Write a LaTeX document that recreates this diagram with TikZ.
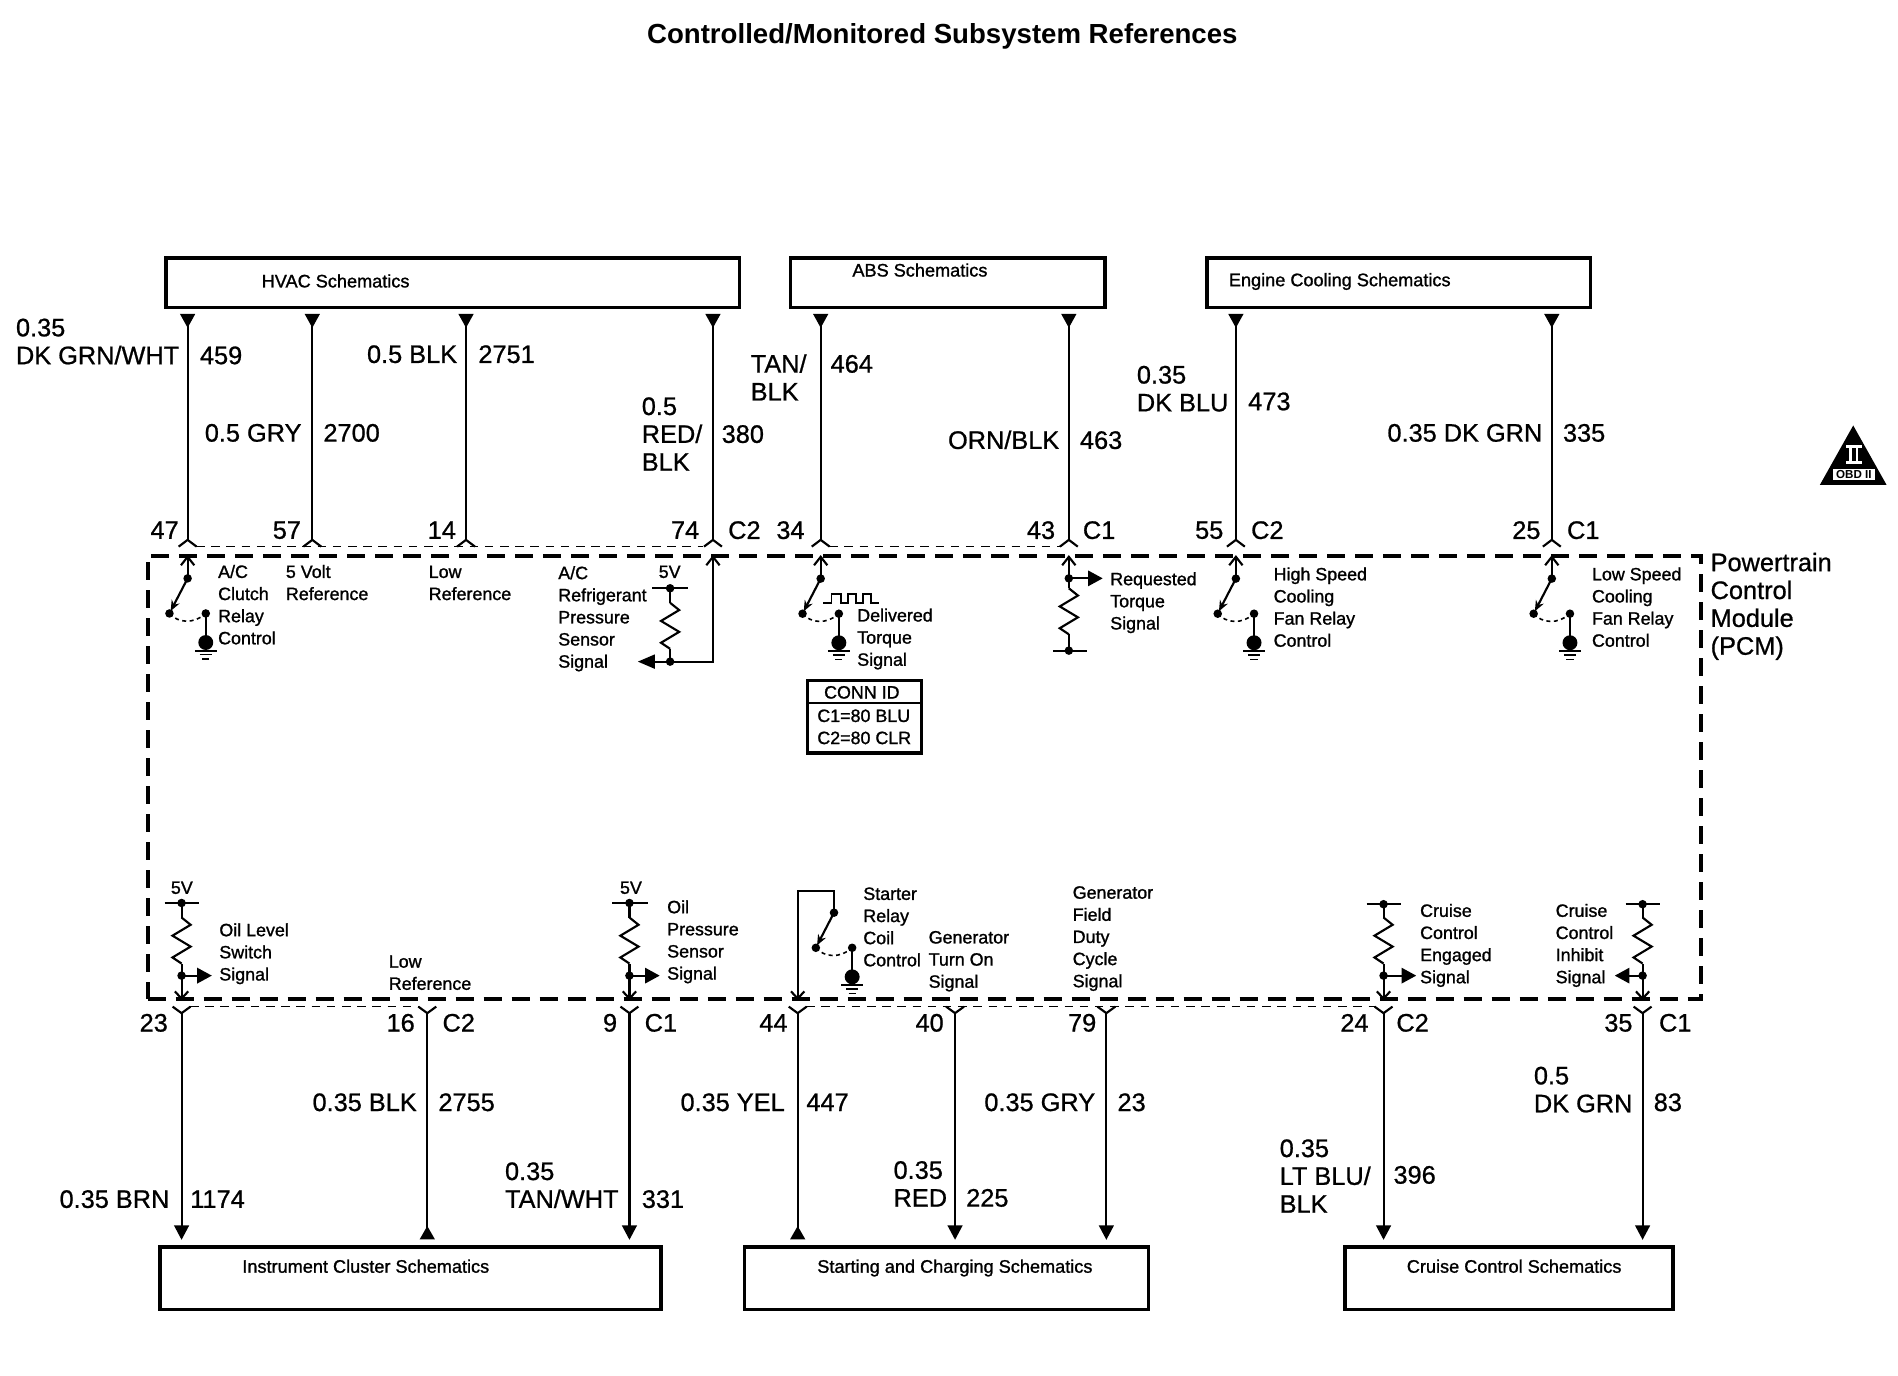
\documentclass[tikz,border=0pt]{standalone}
\usepackage{fontspec}
\setmainfont{Liberation Sans}
\newfontfamily\smfont[FakeBold=1.2]{Liberation Sans}
\newfontfamily\bgfont[FakeBold=0.8]{Liberation Sans}
\usetikzlibrary{arrows.meta,fit}
\tikzset{
  wire/.style={line width=1.6pt,line cap=butt},
  chev/.style={line width=1.6pt,miter limit=10},
  schembox/.style={draw,line width=2.6pt,inner sep=0pt,outer sep=0pt},
  pcmbox/.style={draw,line width=3.1pt,inner sep=0pt,outer sep=0pt,dash pattern=on 13.6pt off 7.4pt},
  thindash/.style={line width=1.25pt,dash pattern=on 6.4pt off 5pt},
  smtext/.style={font=\smfont\fontsize{13.4}{16.6}\selectfont,align=left,inner sep=0pt,anchor=north west},
  boxtext/.style={font=\smfont\fontsize{13.6}{16.6}\selectfont,align=left,inner sep=0pt,anchor=north west},
  bgtext/.style={font=\bgfont\fontsize{19}{20.9}\selectfont,align=left,inner sep=0pt,anchor=north west},
  pintext/.style={font=\bgfont\fontsize{19}{20.9}\selectfont,inner sep=0pt,anchor=center},
  toparrow/.style={wire,shorten <=4.9pt,{Triangle[reversed,length=10.4pt,width=11pt]}-},
  botdown/.style={wire,shorten >=5.2pt,-{Triangle[length=10.8pt,width=11pt]}},
  botup/.style={wire,shorten >=5.6pt,-{Triangle[reversed,length=10pt,width=11pt]}},
  flow/.style={wire,-{Triangle[length=11pt,width=11.5pt]}},
}
% text helpers: x, y of the centre of the first line
\newcommand\smtxt[4]{\node[smtext] (#1) at (#2,#3-9) {\rule{0pt}{12pt}#4};}
\newcommand\boxtxt[4]{\node[boxtext] (#1) at (#2,#3-9) {\rule{0pt}{12pt}#4};}
\newcommand\bgtxt[4]{\node[bgtext] (#1) at (#2,#3-11) {\rule{0pt}{16pt}#4};}
\newcommand\pinlbl[4]{\node[pintext] (#1) at (#2,#3) {#4};}
% pins
\newcommand\toppin[2]{\coordinate (#1) at (#2,446);\draw[chev] (#2-7.4,451.6) -- (#1) -- (#2+7.4,451.6);}
\newcommand\botpin[2]{\coordinate (#1) at (#2,837);\draw[chev] (#2-7.4,831.6) -- (#1) -- (#2+7.4,831.6);}
\newcommand\inup[1]{\draw[chev] (#1-5.5,467) -- (#1,460) -- (#1+5.5,467);}
\newcommand\indown[1]{\draw[chev] (#1-5.5,819) -- (#1,825) -- (#1+5.5,819);}
\newcommand\blob[2]{\fill (#1,#2) circle (3.2pt);}
% resistor: from (x,y) down 38 units
\newcommand\zigzag[2]{\draw[wire,line join=miter] (#1,#2) -- (#1+7.5,#2+6) -- (#1-7.5,#2+15) -- (#1+7.5,#2+24) -- (#1-7.5,#2+33) -- (#1,#2+38);}
% relay switch with top contact at (x,y)
\newcommand\relayswitch[2]{%
  \blob{#1}{#2}\blob{#1-15}{#2+29}\blob{#1+15}{#2+29}%
  \draw[wire,-{Stealth[length=8pt,width=6.5pt]}] (#1,#2) -- (#1-14,#2+27);
  \draw[line width=1.2pt,dash pattern=on 3pt off 2.6pt] (#1-15,#2+29) .. controls (#1-8,#2+37) and (#1+5,#2+38) .. (#1+15,#2+29);
  \draw[wire] (#1+15,#2+29) -- (#1+15,#2+52);
  \fill (#1+15,#2+53) circle (5.6pt);
  \draw[line width=1.3pt] (#1+6,#2+60) -- (#1+24,#2+60);
  \draw[line width=1pt] (#1+10,#2+63) -- (#1+20,#2+63);
  \draw[line width=1pt] (#1+12,#2+66.7) -- (#1+18,#2+66.7);
}
\begin{document}
\begin{tikzpicture}[x=0.9079pt,y=-0.9079pt]
\useasboundingbox (0,0) rectangle (1568,1136.7);
\fill[white] (0,0) rectangle (1568,1136.7);

\node[font=\fontsize{20.7}{24}\selectfont\bfseries,inner sep=0pt] (title) at (778.5,30) {Controlled/Monitored Subsystem References};

% boxes
\node[schembox,fit={(137,213) (611,254)}] (hvac) {};
\node[schembox,fit={(653,213) (913,254)}] (abs) {};
\node[schembox,fit={(997,213) (1314,254)}] (eng) {};
\node[schembox,fit={(132,1030) (546,1082)}] (inst) {};
\node[schembox,fit={(615,1030) (949,1082)}] (start) {};
\node[schembox,fit={(1111,1030) (1382,1082)}] (cruise) {};
\node[pcmbox,fit={(122,459) (1405,825)}] (pcm) {};

\boxtxt{thvac}{216}{233}{HVAC Schematics}
\boxtxt{tabs}{704}{224}{ABS Schematics}
\boxtxt{teng}{1015}{232}{Engine Cooling Schematics}
\boxtxt{tinst}{200}{1047}{Instrument Cluster Schematics}
\boxtxt{tstart}{675}{1047}{Starting and Charging Schematics}
\boxtxt{tcruise}{1162}{1047}{Cruise Control Schematics}

% top pins
\toppin{p47}{155}\toppin{p57}{258}\toppin{p14}{385}\toppin{p74}{589}
\toppin{p34}{678}\toppin{p43}{883}\toppin{p55}{1021}\toppin{p25}{1282}
\draw[toparrow] (hvac.south -| p47) -- (p47);
\draw[toparrow] (hvac.south -| p57) -- (p57);
\draw[toparrow] (hvac.south -| p14) -- (p14);
\draw[toparrow] (hvac.south -| p74) -- (p74);
\draw[toparrow] (abs.south -| p34) -- (p34);
\draw[toparrow] (abs.south -| p43) -- (p43);
\draw[toparrow] (eng.south -| p55) -- (p55);
\draw[toparrow] (eng.south -| p25) -- (p25);
\draw[thindash] (162,451.6) -- (581,451.6);
\draw[thindash] (685,451.6) -- (876,451.6);

% bottom pins
\botpin{q23}{150}\botpin{q16}{353}\botpin{q9}{520}\botpin{q44}{659}
\botpin{q40}{789}\botpin{q79}{914}\botpin{q24}{1143}\botpin{q35}{1357}
\draw[botdown] (q23) -- (inst.north -| q23);
\draw[botup] (q16) -- (inst.north -| q16);
\draw[botdown] (q9) -- (inst.north -| q9);
\draw[botup] (q44) -- (start.north -| q44);
\draw[botdown] (q40) -- (start.north -| q40);
\draw[botdown] (q79) -- (start.north -| q79);
\draw[botdown] (q24) -- (cruise.north -| q24);
\draw[botdown] (q35) -- (cruise.north -| q35);
\draw[thindash] (157,831.6) -- (346,831.6);
\draw[thindash] (666,831.6) -- (1136,831.6);

% pin labels
\pinlbl{l47}{136}{438}{47}\pinlbl{l57}{237}{438}{57}\pinlbl{l14}{365}{438}{14}
\pinlbl{l74}{566}{438}{74}\pinlbl{lc2a}{615}{438}{C2}\pinlbl{l34}{653}{438}{34}
\pinlbl{l43}{860}{438}{43}\pinlbl{lc1a}{908}{438}{C1}\pinlbl{l55}{999}{438}{55}
\pinlbl{lc2b}{1047}{438}{C2}\pinlbl{l25}{1261}{438}{25}\pinlbl{lc1b}{1308}{438}{C1}
\pinlbl{l23}{127}{845}{23}\pinlbl{l16}{331}{845}{16}\pinlbl{lc2c}{379}{845}{C2}
\pinlbl{l9}{504}{845}{9}\pinlbl{lc1c}{546}{845}{C1}\pinlbl{l44}{639}{845}{44}
\pinlbl{l40}{768}{845}{40}\pinlbl{l79}{894}{845}{79}\pinlbl{l24}{1119}{845}{24}
\pinlbl{lc2d}{1167}{845}{C2}\pinlbl{l35}{1337}{845}{35}\pinlbl{lc1d}{1384}{845}{C1}

% wire labels, top
\bgtxt{w1}{13}{271}{0.35\\DK GRN/WHT}\bgtxt{n1}{165}{294}{459}
\bgtxt{w2}{169}{358}{0.5 GRY}\bgtxt{n2}{267}{358}{2700}
\bgtxt{w3}{303}{293}{0.5 BLK}\bgtxt{n3}{395}{293}{2751}
\bgtxt{w4}{530}{336}{0.5\\RED/\\BLK}\bgtxt{n4}{596}{359}{380}
\bgtxt{w5}{620}{301}{TAN/\\BLK}\bgtxt{n5}{686}{301}{464}
\bgtxt{w6}{783}{364}{ORN/BLK}\bgtxt{n6}{892}{364}{463}
\bgtxt{w7}{939}{310}{0.35\\DK BLU}\bgtxt{n7}{1031}{332}{473}
\bgtxt{w8}{1146}{358}{0.35 DK GRN}\bgtxt{n8}{1291}{358}{335}
% wire labels, bottom
\bgtxt{b1}{49}{991}{0.35 BRN}\bgtxt{m1}{157}{991}{1174}
\bgtxt{b2}{258}{911}{0.35 BLK}\bgtxt{m2}{362}{911}{2755}
\bgtxt{b3}{417}{968}{0.35\\TAN/WHT}\bgtxt{m3}{530}{991}{331}
\bgtxt{b4}{562}{911}{0.35 YEL}\bgtxt{m4}{666}{911}{447}
\bgtxt{b5}{738}{967}{0.35\\RED}\bgtxt{m5}{798}{990}{225}
\bgtxt{b6}{813}{911}{0.35 GRY}\bgtxt{m6}{923}{911}{23}
\bgtxt{b7}{1057}{949}{0.35\\LT BLU/\\BLK}\bgtxt{m7}{1151}{971}{396}
\bgtxt{b8}{1267}{889}{0.5\\DK GRN}\bgtxt{m8}{1366}{911}{83}

\bgtxt{pcmlbl}{1413}{465}{Powertrain\\Control\\Module\\(PCM)}

% upper internal circuits
\inup{155}\draw[wire] (155,460) -- (155,477.8);
\relayswitch{155}{477.8}
\smtxt{s1}{180}{473}{A/C\\Clutch\\Relay\\Control}
\smtxt{s2}{236}{473}{5 Volt\\Reference}
\smtxt{s3}{354}{473}{Low\\Reference}
\smtxt{s4}{461}{474}{A/C\\Refrigerant\\Pressure\\Sensor\\Signal}
\smtxt{v5a}{544}{473}{5V}
\draw[line width=1.5pt] (539,486) -- (568,486);
\blob{553.6}{486}
\draw[wire] (553.6,486) -- (553.6,498);
\zigzag{553.6}{498}
\draw[wire] (553.6,536) -- (553.6,546.6);
\blob{553.6}{546.6}
\inup{589}
\draw[wire] (589,460) -- (589,546.6) -- (541,546.6);
\fill (527,546.6) -- (541,540.6) -- (541,552.6) -- cycle;

\inup{678}\draw[wire] (678,460) -- (678,478);
\relayswitch{678}{478}
\draw[line width=1.3pt] (680,498) -- (687,498) -- (687,490.5) -- (695,490.5) -- (695,498) -- (700.6,498) -- (700.6,490.5) -- (707,490.5) -- (707,498) -- (712.8,498) -- (712.8,490.5) -- (719.6,490.5) -- (719.6,498) -- (726.4,498);
\smtxt{s5}{708}{509}{Delivered\\Torque\\Signal}

% connector id table
\node[draw,line width=2.4pt,inner sep=0pt,outer sep=0pt,fit={(667,562) (761,622)}] (connid) {};
\draw[line width=1.3pt] (connid.west |- 0,580.5) -- (connid.east |- 0,580.5);
\node[font=\smfont\fontsize{13.4}{16.6}\selectfont,inner sep=0pt] (c0) at (712,572) {CONN ID};
\smtxt{c1}{675}{592}{C1=80 BLU\\C2=80 CLR}

\inup{883}\draw[wire] (883,460) -- (883,486);
\blob{883}{477.8}
\draw[flow] (883,477.8) -- (911,477.8);
\zigzag{883}{486}
\draw[wire] (883,524) -- (883,537.5);
\draw[line width=1.5pt] (870,537.5) -- (898,537.5);
\blob{883}{537.5}
\smtxt{s6}{917}{479}{Requested\\Torque\\Signal}

\inup{1021}\draw[wire] (1021,460) -- (1021,478);
\relayswitch{1021}{478}
\smtxt{s7}{1052}{475}{High Speed\\Cooling\\Fan Relay\\Control}
\inup{1282}\draw[wire] (1282,460) -- (1282,478);
\relayswitch{1282}{478}
\smtxt{s8}{1315}{475}{Low Speed\\Cooling\\Fan Relay\\Control}

% lower internal circuits
\smtxt{v5b}{141}{734}{5V}
\draw[line width=1.5pt] (136,746) -- (164.5,746);
\blob{150}{746}
\draw[wire] (150,746) -- (150,758);
\zigzag{150}{758}
\draw[wire] (150,796) -- (150,825);
\indown{150}
\blob{150}{806}
\draw[flow] (150,806) -- (175,806);
\smtxt{s9}{181}{769}{Oil Level\\Switch\\Signal}
\smtxt{s10}{321}{795}{Low\\Reference}

\smtxt{v5c}{512}{734}{5V}
\draw[line width=1.5pt] (506,746) -- (535,746);
\blob{520}{746}
\draw[wire] (520,746) -- (520,758);
\zigzag{520}{758}
\draw[wire] (520,796) -- (520,825);
\indown{520}
\blob{520}{806}
\draw[flow] (520,806) -- (545,806);
\smtxt{s11}{551}{750}{Oil\\Pressure\\Sensor\\Signal}

\indown{659}
\draw[wire,line join=miter] (659,825) -- (659,736) -- (689,736) -- (689,754);
\relayswitch{689}{754}
\smtxt{s12}{713}{739}{Starter\\Relay\\Coil\\Control}
\smtxt{s13}{767}{775}{Generator\\Turn On\\Signal}
\smtxt{s14}{886}{738}{Generator\\Field\\Duty\\Cycle\\Signal}

\draw[line width=1.5pt] (1129,747) -- (1157,747);
\blob{1143}{747}
\draw[wire] (1143,747) -- (1143,758);
\zigzag{1143}{758}
\draw[wire] (1143,796) -- (1143,825);
\indown{1143}
\blob{1143}{806}
\draw[flow] (1143,806) -- (1170,806);
\smtxt{s15}{1173}{753}{Cruise\\Control\\Engaged\\Signal}

\draw[line width=1.5pt] (1343,747) -- (1371,747);
\blob{1357}{747}
\draw[wire] (1357,747) -- (1357,758);
\zigzag{1357}{758}
\draw[wire] (1357,796) -- (1357,825);
\indown{1357}
\blob{1357}{806}
\draw[flow] (1357,806) -- (1334,806);
\smtxt{s16}{1285}{753}{Cruise\\Control\\Inhibit\\Signal}

% OBD II badge
\fill (1531,351.5) -- (1503.5,400.5) -- (1558.5,400.5) -- cycle;
\fill[white] (1525,367.6) rectangle (1538,369.8);
\fill[white] (1527.7,369.8) rectangle (1529.7,380.6);
\fill[white] (1533,369.8) rectangle (1535,380.6);
\fill[white] (1525,380.6) rectangle (1538,383.3);
\fill[white] (1514,387.7) rectangle (1549,396.5);
\node[font=\fontsize{8.7}{9}\selectfont\bfseries,inner sep=0pt] (obd) at (1531.5,392.1) {OBD II};
\end{tikzpicture}
\end{document}
